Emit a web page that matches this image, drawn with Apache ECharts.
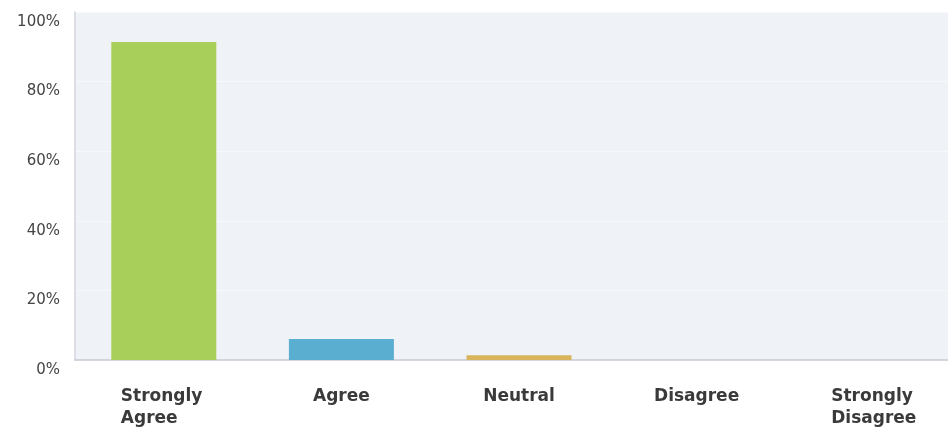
<!DOCTYPE html>
<html>
<head>
<meta charset="utf-8">
<script src="https://cdn.jsdelivr.net/npm/echarts@6/dist/echarts.min.js"></script>
<style>
  html, body { margin: 0; padding: 0; background: #ffffff; overflow: hidden; }
  #chart { width: 970px; height: 430px; }
</style>
</head>
<body>
<div id="chart"></div>
<script>
// Survey responses, share of respondents per answer
const categories = ['Strongly Agree', 'Agree', 'Neutral', 'Disagree', 'Strongly Disagree'];
const shares = [91.4, 6.0, 1.4, 0, 0];
const barColors = ['#a9cf5b', '#5aaecf', '#d8b55c', '#8f8fc8', '#d27b6a'];
const yTicks = [0, 20, 40, 60, 80, 100];

const chart = echarts.init(document.getElementById('chart'), null, { renderer: 'canvas' });

// Two-word answers are split over two left-aligned lines, block centred under the bar
function labelFor(name) {
  const parts = name.split(' ');
  if (parts.length === 1) return '{s|' + name + '}';
  return parts.map(p => '{w|' + p + '}').join('\n');
}

const labelFont = { fontFamily: 'DejaVu Sans', fontWeight: 'bold', fontSize: 17, color: '#3a3a3a', lineHeight: 22 };

chart.setOption({
  backgroundColor: '#ffffff',
  animation: false,
  grid: {
    left: 75, top: 12, width: 888, height: 350,
    show: true, backgroundColor: '#eff2f7', borderWidth: 0
  },
  xAxis: {
    type: 'category',
    data: categories,
    axisLine: { show: true, lineStyle: { color: '#c7cad4', width: 1.5 } },
    axisTick: { show: false },
    axisLabel: Object.assign({
      interval: 0,
      margin: 26,
      formatter: labelFor,
      rich: {
        s: Object.assign({}, labelFont),
        w: Object.assign({ width: 86, align: 'left' }, labelFont)
      }
    }, labelFont)
  },
  yAxis: {
    type: 'value',
    min: 0, max: 100, interval: 20,
    axisLine: { show: true, lineStyle: { color: '#d3d6de', width: 1.5 } },
    axisTick: { show: false },
    splitLine: { show: true, lineStyle: { color: '#f6f8fb', width: 1 } },
    axisLabel: {
      margin: 15,
      color: '#444444',
      fontFamily: 'DejaVu Sans',
      fontSize: 15,
      verticalAlign: 'top',
      lineHeight: 14,
      padding: [3, 0, 0, 0],
      formatter: v => (yTicks.indexOf(v) >= 0 ? v + '%' : '')
    }
  },
  series: [{
    type: 'bar',
    barWidth: 105,
    data: shares.map((v, i) => ({ value: v, itemStyle: { color: barColors[i] } })),
    silent: true
  }]
});
</script>
</body>
</html>
